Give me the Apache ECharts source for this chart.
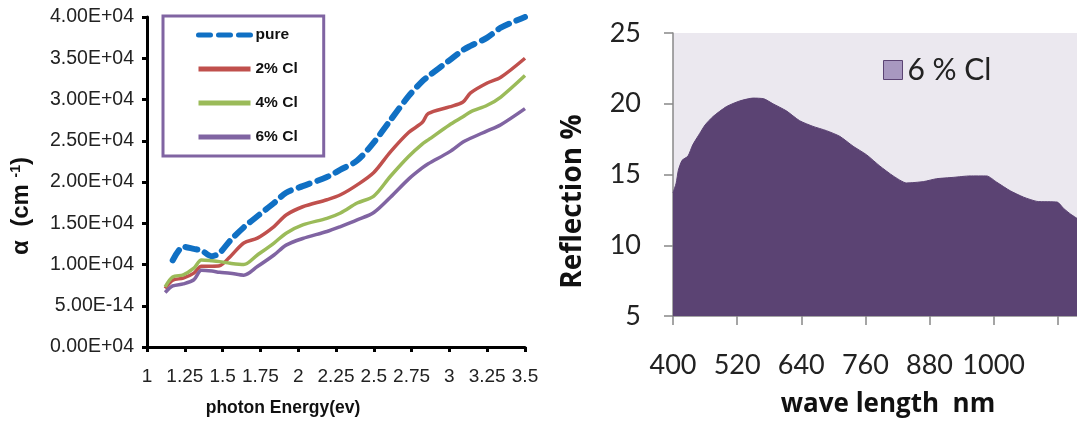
<!DOCTYPE html>
<html>
<head>
<meta charset="utf-8">
<script src="https://cdn.jsdelivr.net/npm/echarts@6/dist/echarts.min.js"></script>
<style>
  html, body { margin: 0; padding: 0; background: #fff; }
  #chart { width: 1077px; height: 423px; }
</style>
</head>
<body>
<div id="chart"></div>
<script>
// left panel: absorption coefficient vs photon energy
var energy = [1.12, 1.17, 1.24, 1.31, 1.36, 1.43, 1.48, 1.55, 1.64, 1.73, 1.84, 1.92, 2.03, 2.19,
  2.28, 2.39, 2.5, 2.61, 2.73, 2.82, 2.86, 3.0, 3.09, 3.14, 3.25, 3.34, 3.5];
var pure = [null, 10500, 12150, 11900, 11700, 11000, 11400, 12900, 14500, 15850, 17450, 18700, 19500, 20600,
  21500, 22600, 24800, 27500, 30400, 32200, 32800, 34750, 36000, 36500, 37500, 38700, 40000];
var cl2 = [7100, 8100, 8350, 8950, 9800, 9800, 9850, 10950, 12600, 13200, 14600, 16000, 17000, 17850,
  18450, 19650, 21150, 23650, 26000, 27200, 28300, 29100, 29700, 30800, 32000, 32700, 35000];
var cl4 = [7300, 8500, 8750, 9550, 10550, 10450, 10350, 10150, 10000, 11150, 12600, 13800, 14800, 15600,
  16250, 17450, 18300, 20700, 23100, 24600, 25100, 26900, 27900, 28500, 29300, 30300, 32900];
var cl6 = [6600, 7400, 7650, 8150, 9300, 9200, 9050, 8950, 8700, 9750, 11150, 12350, 13150, 14000,
  14600, 15400, 16300, 18150, 20350, 21700, 22200, 23650, 24850, 25300, 26200, 26950, 28900];
var alphaTicks = ['0.00E+04', '5.00E-14', '1.00E+04', '1.50E+04', '2.00E+04', '2.50E+04',
  '3.00E+04', '3.50E+04', '4.00E+04'];

// right panel: reflection vs wavelength
var wave = [400, 406, 410, 417, 428, 437, 450, 460, 475, 500, 525, 550, 570, 587, 612, 637, 662, 687,
  712, 737, 762, 787, 812, 837, 869, 893, 925, 956, 987, 1006, 1031, 1056, 1081, 1119, 1131, 1144, 1156];
var reflection = [13.7, 14.4, 15.3, 16.0, 16.3, 17.1, 17.9, 18.5, 19.1, 19.8, 20.2, 20.4, 20.35, 20.0,
  19.5, 18.8, 18.4, 18.1, 17.7, 17.0, 16.4, 15.6, 14.9, 14.4, 14.5, 14.7, 14.8, 14.9, 14.9, 14.45,
  13.85, 13.4, 13.1, 13.05, 12.6, 12.2, 11.9];

function pairs(xs, ys) {
  var out = [];
  for (var i = 0; i < xs.length; i++) {
    if (ys[i] != null) out.push([xs[i], ys[i]]);
  }
  return out;
}

var narrow = "'Liberation Sans Narrow', sans-serif";
var arial = "'Liberation Sans', Arial, sans-serif";
var soft = "Lato, 'Open Sans', sans-serif";
var softBold = "'Open Sans', Lato, sans-serif";

var chart = echarts.init(document.getElementById('chart'));

var option = {
  backgroundColor: '#fff',
  animation: false,
  legend: [
    {
      left: 163,
      top: 16,
      orient: 'vertical',
      padding: [11, 26, 11, 33],
      itemWidth: 52,
      itemHeight: 14,
      itemGap: 18,
      borderColor: '#8064A2',
      borderWidth: 3,
      itemStyle: { opacity: 0 },
      lineStyle: { width: 5 },
      textStyle: { fontFamily: narrow, fontWeight: 'bold', fontSize: 15.5, color: '#111' },
      data: ['pure', '2% Cl', '4% Cl', '6% Cl']
    },
    {
      left: 878,
      top: 50,
      itemWidth: 19,
      itemHeight: 19,
      itemGap: 6,
      textStyle: { fontFamily: soft, fontSize: 30, color: '#222' },
      data: [{
        name: '6 % Cl',
        icon: 'rect',
        itemStyle: { color: '#A898C0', borderColor: '#5B4373', borderWidth: 1 }
      }]
    }
  ],
  grid: [
    { left: 147, top: 17, width: 378, height: 330 },
    { left: 673, top: 33, right: 0, height: 285, show: true, backgroundColor: '#EBE8EF', borderWidth: 0 }
  ],
  xAxis: [
    {
      gridIndex: 0,
      type: 'value',
      min: 1,
      max: 3.5,
      interval: 0.25,
      name: 'photon Energy(ev)',
      nameLocation: 'middle',
      nameGap: 52,
      nameTextStyle: { fontFamily: narrow, fontWeight: 'bold', fontSize: 17.5, color: '#111', padding: [0, 106, 0, 0] },
      splitLine: { show: false },
      axisLine: { lineStyle: { color: '#000', width: 3 } },
      axisTick: { show: true, length: 5, lineStyle: { color: '#000', width: 3 } },
      axisLabel: { margin: 20, fontFamily: narrow, fontSize: 19, color: '#222' }
    },
    {
      gridIndex: 1,
      type: 'value',
      min: 400,
      max: 1156,
      interval: 120,
      name: 'wave length  nm',
      nameLocation: 'middle',
      nameGap: 76,
      nameTextStyle: { fontFamily: softBold, fontWeight: 'bold', fontSize: 26, color: '#111', padding: [0, 0, 0, 26] },
      splitLine: { show: false },
      axisLine: { onZero: false, lineStyle: { color: '#888', width: 1.5 } },
      axisTick: { show: true, length: 9, lineStyle: { color: '#888', width: 1.5 } },
      axisLabel: {
        margin: 36,
        fontFamily: soft,
        fontSize: 27,
        color: '#222',
        showMaxLabel: false,
        formatter: function (v) { return v > 1000 ? '' : String(v); }
      }
    }
  ],
  yAxis: [
    {
      gridIndex: 0,
      type: 'value',
      min: 0,
      max: 40000,
      interval: 5000,
      name: '{a|α  (cm }{s|-1}{a|)}',
      nameLocation: 'middle',
      nameGap: 114,
      nameTextStyle: {
        padding: [0, 48, 0, 0],
        rich: {
          a: { fontFamily: arial, fontWeight: 'bold', fontSize: 24, color: '#111' },
          s: { fontFamily: arial, fontWeight: 'bold', fontSize: 14, color: '#111', verticalAlign: 'top' }
        }
      },
      splitLine: { show: false },
      axisLine: { show: true, lineStyle: { color: '#000', width: 3 } },
      axisTick: { show: true, length: 5, lineStyle: { color: '#000', width: 3 } },
      axisLabel: {
        margin: 13,
        fontFamily: narrow,
        fontSize: 19.5,
        color: '#222',
        formatter: function (v) { return alphaTicks[Math.round(v / 5000)]; }
      }
    },
    {
      gridIndex: 1,
      type: 'value',
      min: 5,
      max: 25,
      interval: 5,
      name: 'Reflection %',
      nameLocation: 'middle',
      nameGap: 86,
      nameTextStyle: { fontFamily: softBold, fontWeight: 'bold', fontSize: 28, color: '#111', padding: [0, 54, 0, 0] },
      splitLine: { show: false },
      axisLine: { show: true, lineStyle: { color: '#888', width: 1.5 } },
      axisTick: { show: true, length: 9, lineStyle: { color: '#888', width: 1.5 } },
      axisLabel: { margin: 32, fontFamily: soft, fontSize: 27, color: '#222' }
    }
  ],
  series: [
    {
      name: 'pure', type: 'line', xAxisIndex: 0, yAxisIndex: 0,
      symbol: 'none', smooth: 0.3, color: '#1070C4',
      lineStyle: { width: 6, type: [12, 8], cap: 'round' },
      data: pairs(energy, pure)
    },
    {
      name: '2% Cl', type: 'line', xAxisIndex: 0, yAxisIndex: 0,
      symbol: 'none', smooth: 0.3, color: '#C0504D',
      lineStyle: { width: 3.5 },
      data: pairs(energy, cl2)
    },
    {
      name: '4% Cl', type: 'line', xAxisIndex: 0, yAxisIndex: 0,
      symbol: 'none', smooth: 0.3, color: '#9BBB59',
      lineStyle: { width: 3.5 },
      data: pairs(energy, cl4)
    },
    {
      name: '6% Cl', type: 'line', xAxisIndex: 0, yAxisIndex: 0,
      symbol: 'none', smooth: 0.3, color: '#8064A2',
      lineStyle: { width: 3.5 },
      data: pairs(energy, cl6)
    },
    {
      name: '6 % Cl', type: 'line', xAxisIndex: 1, yAxisIndex: 1,
      symbol: 'none', smooth: 0.2, color: '#5B4373',
      lineStyle: { width: 1, color: '#5B4373' },
      areaStyle: { color: '#5B4373', opacity: 1, origin: 'start' },
      data: pairs(wave, reflection)
    }
  ]
};

chart.setOption(option);
</script>
</body>
</html>
